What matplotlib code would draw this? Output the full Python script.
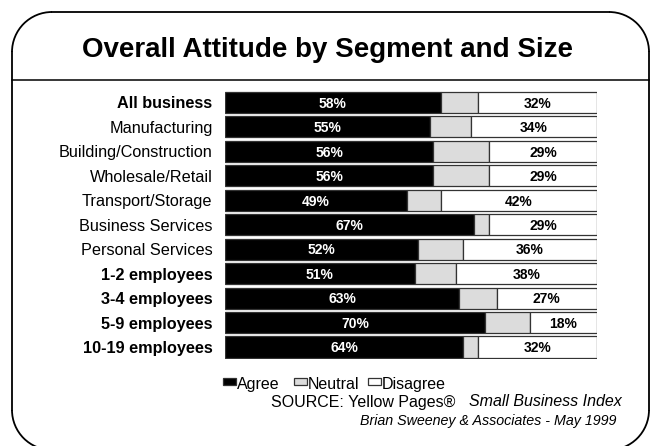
import numpy as np
import matplotlib
matplotlib.use("Agg")
import matplotlib.pyplot as plt
from matplotlib.patches import Rectangle, Arc

plt.rcParams['font.family'] = ['Liberation Sans', 'DejaVu Sans']

# survey results, percent of respondents
segments = ["All business", "Manufacturing", "Building/Construction",
            "Wholesale/Retail", "Transport/Storage", "Business Services",
            "Personal Services", "1-2 employees", "3-4 employees",
            "5-9 employees", "10-19 employees"]
bold_rows = [True, False, False, False, False, False, False, True, True, True, True]
agree = [58, 55, 56, 56, 49, 67, 52, 51, 63, 70, 64]
neutral = [10, 11, 15, 15, 9, 4, 12, 11, 10, 12, 4]
disagree = [32, 34, 29, 29, 42, 29, 36, 38, 27, 18, 32]

W, H = 656, 446
fig = plt.figure(figsize=(W / 100, H / 100), dpi=100)

# background axes in pixel units for frame and text
bg = fig.add_axes([0, 0, 1, 1])
bg.set_xlim(0, W)
bg.set_ylim(H, 0)
bg.axis("off")

# rounded frame, bottom edge runs just past the figure
L, R, T, B, r = 12, 649, 12, 450, 40
lw = 1.3
bg.plot([L + r, R - r], [T, T], color="black", lw=lw)
bg.plot([L + r, R - r], [B, B], color="black", lw=lw)
bg.plot([L, L], [T + r, B - r], color="black", lw=lw)
bg.plot([R, R], [T + r, B - r], color="black", lw=lw)
for cx, cy, t1, t2 in [(L + r, T + r, 180, 270), (R - r, T + r, 270, 360),
                       (L + r, B - r, 90, 180), (R - r, B - r, 0, 90)]:
    bg.add_patch(Arc((cx, cy), 2 * r, 2 * r, theta1=t1, theta2=t2,
                     color="black", lw=lw))
bg.plot([L, R], [80, 80], color="black", lw=1.1)

bg.text(328, 50, "Overall Attitude by Segment and Size", ha="center", va="center",
        fontsize=20, fontweight="bold")

# legend
leg_items = [("Agree", "black", 223), ("Neutral", "#dcdcdc", 294), ("Disagree", "white", 368)]
for name, col, x0 in leg_items:
    bg.add_patch(Rectangle((x0, 378), 13, 7, fc=col, ec="#333333", lw=0.9))
    bg.text(x0 + 14, 384.5, name, ha="left", va="center", fontsize=11.5)

bg.text(271, 402, "SOURCE: Yellow Pages\u00ae", ha="left", va="center", fontsize=11.5)
bg.text(622, 402, "Small Business Index", ha="right", va="center", fontsize=11.5,
        style="italic")
bg.text(616, 421.5, "Brian Sweeney & Associates - May 1999", ha="right", va="center",
        fontsize=10.3, style="italic")

# bar chart
n = len(segments)
pitch = 24.45
top_px = 102.5 - pitch / 2
bot_px = top_px + n * pitch
ax = fig.add_axes([225 / W, 1 - bot_px / H, 372 / W, (bot_px - top_px) / H])
y = np.arange(n)
a = np.array(agree)
nu = np.array(neutral)
d = np.array(disagree)
bh = 0.86
edge = "#333333"
ax.barh(y, a, height=bh, color="black", edgecolor=edge, lw=0.9)
ax.barh(y, nu, left=a, height=bh, color="#dcdcdc", edgecolor=edge, lw=0.9)
ax.barh(y, d, left=a + nu, height=bh, color="white", edgecolor=edge, lw=0.9)

for i in range(n):
    ax.text(a[i] / 2, y[i] + 0.05, f"{agree[i]}%", ha="center", va="center",
            color="white", fontsize=10, fontweight="bold")
    ax.text(a[i] + nu[i] + d[i] / 2, y[i] + 0.05, f"{disagree[i]}%", ha="center",
            va="center", color="black", fontsize=10, fontweight="bold")

ax.set_xlim(0, 100)
ax.set_ylim(n - 0.5, -0.5)
ax.set_yticks(y)
ax.set_yticklabels(segments, fontsize=11.7)
for lab, b in zip(ax.get_yticklabels(), bold_rows):
    if b:
        lab.set_fontweight("bold")
ax.tick_params(axis="y", length=0, pad=9)
ax.set_xticks([])
for s in ax.spines.values():
    s.set_visible(False)

fig.savefig("out.png", dpi=100)
